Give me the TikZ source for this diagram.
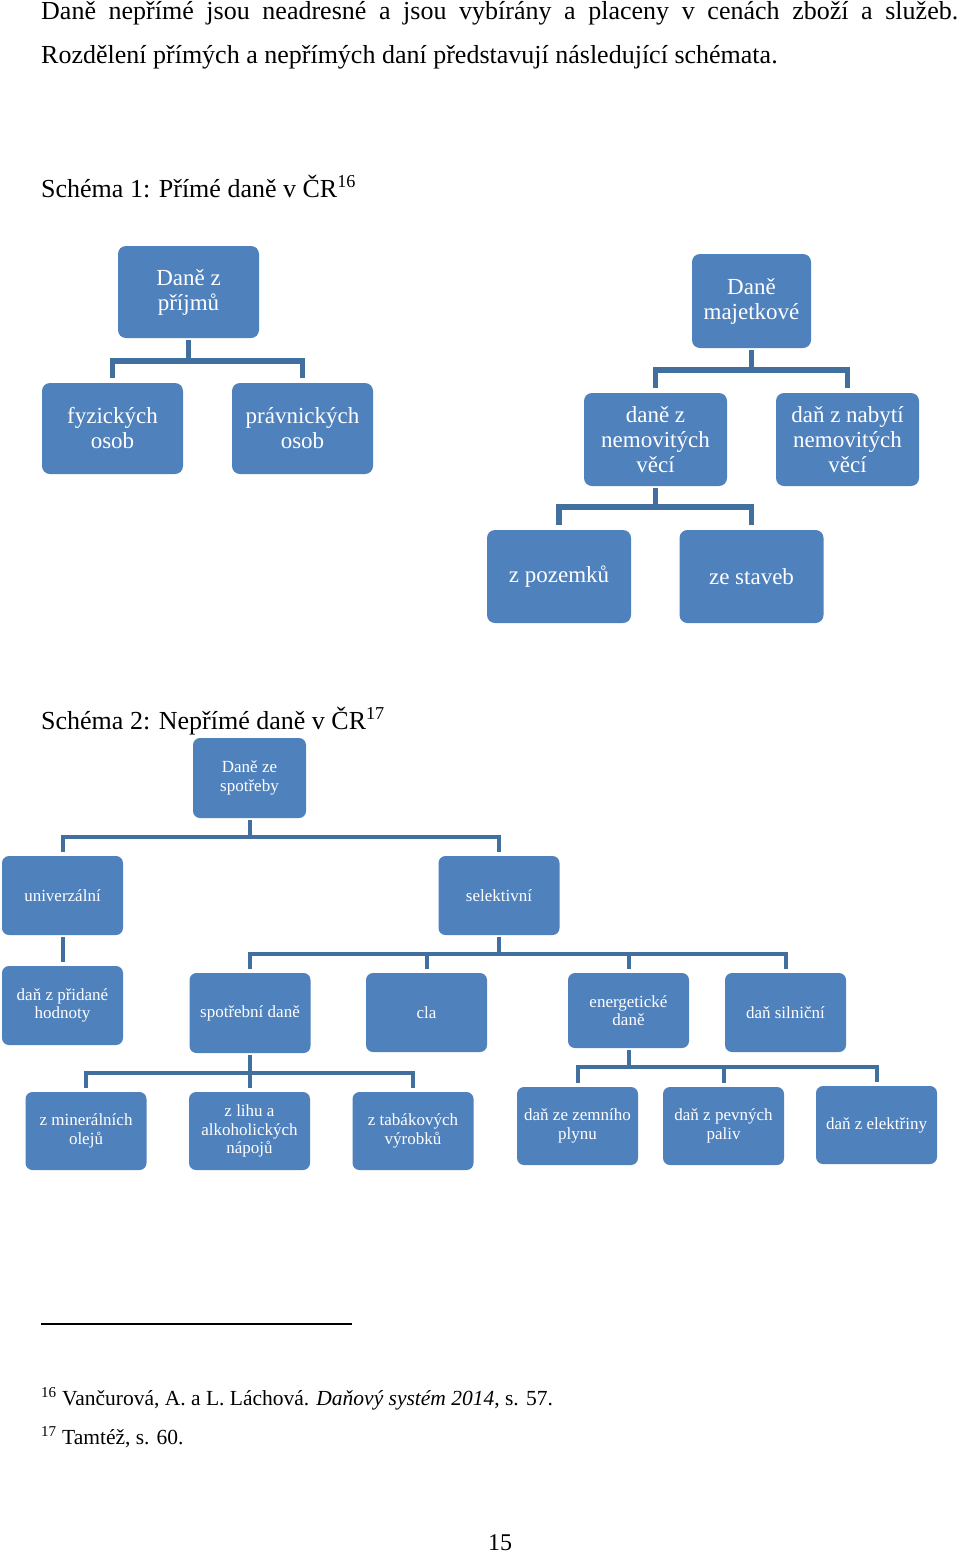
\documentclass[tikz,border=0pt]{standalone}
\usepackage{fontspec}
\setmainfont{Liberation Serif}
\definecolor{boxblue}{HTML}{4F81BD}
\definecolor{linkblue}{HTML}{41709F}
\tikzset{
  boxa/.style={rectangle, rounded corners=8pt, fill=boxblue, text=white, align=center, inner sep=2pt,
    font=\fontsize{23}{25}\selectfont},
  boxb/.style={rectangle, rounded corners=7pt, fill=boxblue, text=white, align=center, inner sep=2pt,
    font=\fontsize{17}{18.5}\selectfont, minimum width=121pt, minimum height=79pt},
  conna/.style={draw=linkblue, line width=5.5pt, shorten <=2pt, shorten >=5pt},
  connb/.style={draw=linkblue, line width=4pt, shorten <=2pt, shorten >=4pt},
  bodytext/.style={anchor=base west, inner sep=0pt, font=\fontsize{26}{30}\selectfont},
  titletext/.style={anchor=base west, inner sep=0pt, font=\fontsize{26}{30}\selectfont},
  foottext/.style={anchor=base west, inner sep=0pt, font=\fontsize{21.5}{24}\selectfont},
}
\begin{document}
\begin{tikzpicture}[x=1pt,y=-1pt]
\fill[white] (0,0) rectangle (960,1553);
\useasboundingbox (0,0) rectangle (960,1553);

% body text
\node[bodytext] (l1) at (41,19) {\makebox[917pt][s]{Daně nepřímé jsou neadresné a jsou vybírány a placeny v cenách zboží a služeb.}};
\node[bodytext] (l2) at (41,63) {Rozdělení přímých a nepřímých daní představují následující schémata.};

% titles
\node[titletext] (t1) at (41,197) {Schéma 1: Přímé daně v ČR\textsuperscript{16}};
\node[titletext] (t2) at (41,729) {Schéma 2: Nepřímé daně v ČR\textsuperscript{17}};

% ---------- Schema 1 ----------
\node[boxa, minimum width=141pt, minimum height=92pt] (dp) at (188.5,292) {Daně z\\příjmů};
\node[boxa, minimum width=141pt, minimum height=91pt] (fo) at (112.5,428.5) {fyzických\\osob};
\node[boxa, minimum width=141pt, minimum height=91pt] (po) at (302.5,428.5) {právnických\\osob};

\node[boxa, minimum width=119pt, minimum height=94pt] (dm) at (751.5,301) {Daně\\majetkové};
\node[boxa, minimum width=143pt, minimum height=93pt] (dn) at (655.5,439.5) {daně z\\nemovitých\\věcí};
\node[boxa, minimum width=143pt, minimum height=93pt] (dnab) at (847.5,439.5) {daň z nabytí\\nemovitých\\věcí};
\node[boxa, minimum width=144pt, minimum height=93pt] (zp) at (559,576.5) {z pozemků};
\node[boxa, minimum width=144pt, minimum height=93pt] (zs) at (751.5,576.5) {ze staveb};

\coordinate (m1) at (0,361);
\coordinate (m2) at (0,370);
\coordinate (m3) at (0,507);
\draw[conna] (dp.south) -- (dp.south |- m1) -| (fo.north);
\draw[conna] (dp.south) -- (dp.south |- m1) -| (po.north);
\draw[conna] (dm.south) -- (dm.south |- m2) -| (dn.north);
\draw[conna] (dm.south) -- (dm.south |- m2) -| (dnab.north);
\draw[conna] (dn.south) -- (dn.south |- m3) -| (zp.north);
\draw[conna] (dn.south) -- (dn.south |- m3) -| (zs.north);

% ---------- Schema 2 ----------
\node[boxb, minimum width=113pt, minimum height=80pt] (ds) at (249.5,778) {Daně ze\\spotřeby};
\node[boxb] (un) at (62.5,895.5) {univerzální};
\node[boxb] (se) at (499,895.5) {selektivní};
\node[boxb] (dph) at (62.5,1005.5) {daň z přidané\\hodnoty};
\node[boxb, minimum height=80pt] (sd) at (250,1013) {spotřební daně};
\node[boxb] (cla) at (426.5,1012.5) {cla};
\node[boxb, minimum height=75pt] (en) at (628.5,1010.5) {energetické\\daně};
\node[boxb] (sil) at (785.5,1012.5) {daň silniční};
\node[boxb, minimum height=78pt] (mo) at (86,1131) {z minerálních\\olejů};
\node[boxb, minimum height=78pt] (li) at (249.5,1131) {z lihu a\\alkoholických\\nápojů};
\node[boxb, minimum height=78pt] (ta) at (413,1131) {z tabákových\\výrobků};
\node[boxb, minimum height=78pt] (zem) at (577.5,1126) {daň ze zemního\\plynu};
\node[boxb, minimum height=78pt] (pev) at (723.5,1126) {daň z pevných\\paliv};
\node[boxb, minimum height=78pt] (ele) at (876.5,1125) {daň z elektřiny};

\coordinate (n1) at (0,837);
\coordinate (n2) at (0,954);
\coordinate (n3) at (0,1073);
\coordinate (n4) at (0,1067);
\draw[connb] (ds.south) -- (ds.south |- n1) -| (un.north);
\draw[connb] (ds.south) -- (ds.south |- n1) -| (se.north);
\draw[connb] (un.south) -- (dph.north);
\draw[connb] (se.south) -- (se.south |- n2) -| (sd.north);
\draw[connb] (se.south) -- (se.south |- n2) -| (cla.north);
\draw[connb] (se.south) -- (se.south |- n2) -| (en.north);
\draw[connb] (se.south) -- (se.south |- n2) -| (sil.north);
\draw[connb] (sd.south) -- (sd.south |- n3) -| (mo.north);
\draw[connb] (sd.south) -- (sd.south |- n3) -| (li.north);
\draw[connb] (sd.south) -- (sd.south |- n3) -| (ta.north);
\draw[connb] (en.south) -- (en.south |- n4) -| (zem.north);
\draw[connb] (en.south) -- (en.south |- n4) -| (pev.north);
\draw[connb] (en.south) -- (en.south |- n4) -| (ele.north);

% ---------- footnotes ----------
\coordinate (r1) at (41,1324);
\coordinate (r2) at (352,1324);
\draw[line width=1.5pt] (r1) -- (r2);
\node[foottext] (f1) at (41,1405) {\textsuperscript{16} Vančurová, A. a L. Láchová. \textit{Daňový systém 2014}, s. 57.};
\node[foottext] (f2) at (41,1444) {\textsuperscript{17} Tamtéž, s. 60.};
\node[anchor=base, inner sep=0pt, font=\fontsize{24}{28}\selectfont] (pg) at (500,1550) {15};
\end{tikzpicture}
\end{document}
